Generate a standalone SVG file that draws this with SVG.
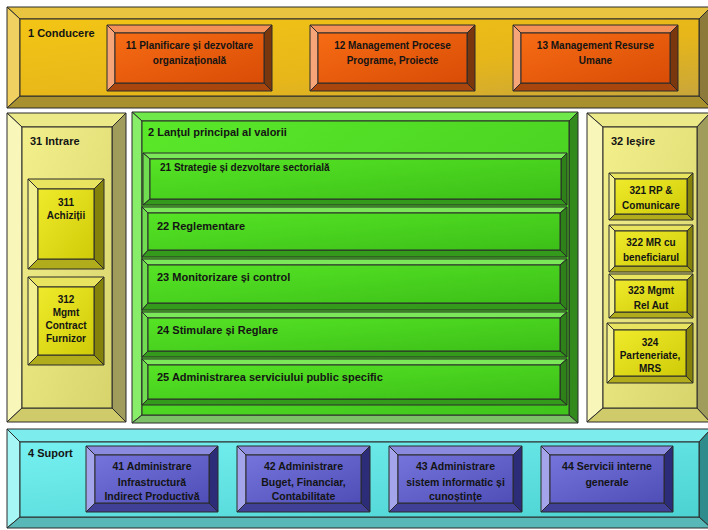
<svg xmlns="http://www.w3.org/2000/svg" width="708" height="530" viewBox="0 0 708 530">
<defs>
<linearGradient id="gGold" x1="0" y1="0" x2="1" y2="1"><stop offset="0" stop-color="#f3c515"/><stop offset="0.6" stop-color="#e6b61a"/><stop offset="1" stop-color="#c9a63a"/></linearGradient>
<linearGradient id="gOr" x1="0" y1="0" x2="1" y2="1"><stop offset="0" stop-color="#f76c14"/><stop offset="1" stop-color="#d84c06"/></linearGradient>
<linearGradient id="gPale" x1="0" y1="0" x2="1" y2="1"><stop offset="0" stop-color="#f3f08c"/><stop offset="1" stop-color="#d8d46c"/></linearGradient>
<linearGradient id="gYel" x1="0" y1="0" x2="1" y2="1"><stop offset="0" stop-color="#efeb2c"/><stop offset="1" stop-color="#cfcb08"/></linearGradient>
<linearGradient id="gGrn" x1="0" y1="0" x2="1" y2="1"><stop offset="0" stop-color="#5ae82a"/><stop offset="1" stop-color="#40c41c"/></linearGradient>
<linearGradient id="gRow" x1="0" y1="0" x2="1" y2="1"><stop offset="0" stop-color="#56e425"/><stop offset="1" stop-color="#3cbf18"/></linearGradient>
<linearGradient id="gCy" x1="0" y1="0" x2="1" y2="1"><stop offset="0" stop-color="#76f0f0"/><stop offset="1" stop-color="#4cd2d2"/></linearGradient>
<linearGradient id="gPu" x1="0" y1="0" x2="1" y2="1"><stop offset="0" stop-color="#7474dc"/><stop offset="1" stop-color="#4e4eb6"/></linearGradient>
</defs>
<style>
polygon,rect.f{stroke:#2a2a2a;stroke-width:1;stroke-linejoin:round}
text{font-family:"Liberation Sans",Arial,sans-serif;font-weight:bold;fill:#141414}
.c{text-anchor:middle;font-size:10px}
.p{text-anchor:middle;font-size:10.5px}
.h{font-size:11px}
.gold .f{fill:url(#gGold)} .gold .bt{fill:#e8c440} .gold .bl{fill:#f0d060} .gold .br{fill:#8c7a3a} .gold .bb{fill:#a8902e}
.or .f{fill:url(#gOr)} .or .bt{fill:#f39058} .or .bl{fill:#f5a578} .or .br{fill:#7a360c} .or .bb{fill:#a8460e}
.pale .f{fill:url(#gPale)} .pale .bt{fill:#ecea88} .pale .bl{fill:#f8f6b8} .pale .br{fill:#a09c5c} .pale .bb{fill:#cfca6a}
.yel .f{fill:url(#gYel)} .yel .bt{fill:#e8e460} .yel .bl{fill:#f2f090} .yel .br{fill:#85820c} .yel .bb{fill:#b0ac1c}
.grn .f{fill:url(#gGrn)} .grn .bt{fill:#6ee84a} .grn .bl{fill:#88ee6a} .grn .br{fill:#338a1c} .grn .bb{fill:#7cc068}
.row .f{fill:url(#gRow)} .row .bt{fill:#7ae858} .row .bl{fill:#70dc50} .row .br{fill:#2e8018} .row .bb{fill:#349a1c}
.cy .f{fill:url(#gCy)} .cy .bt{fill:#7cecec} .cy .bl{fill:#a6f6f6} .cy .br{fill:#2f8c8c} .cy .bb{fill:#58b8b8}
.pu .f{fill:url(#gPu)} .pu .bt{fill:#8a8ade} .pu .bl{fill:#a4a4ea} .pu .br{fill:#2c2c78} .pu .bb{fill:#404096}
</style>
<rect width="708" height="530" fill="#ffffff"/>

<g id="n1" class="gold">
<polygon class="bt" points="7,7 711,7 699,19 20,19"/>
<polygon class="bl" points="7,7 20,19 20,96 7,108"/>
<polygon class="br" points="711,7 711,108 699,96 699,19"/>
<polygon class="bb" points="7,108 20,96 699,96 711,108"/>
<rect class="f" x="20" y="19" width="679" height="77"/>
<text class="h" x="28" y="37">1 Conducere</text>
</g>
<g id="n11" class="or">
<polygon class="bt" points="107,25 272,25 264,33 115,33"/>
<polygon class="bl" points="107,25 115,33 115,83 107,91"/>
<polygon class="br" points="272,25 272,91 264,83 264,33"/>
<polygon class="bb" points="107,91 115,83 264,83 272,91"/>
<rect class="f" x="115" y="33" width="149" height="50"/>
<text class="c" x="189.5" y="49">11 Planificare și dezvoltare</text>
<text class="c" x="189.5" y="64">organizațională</text>
</g>
<g id="n12" class="or">
<polygon class="bt" points="310,25 475,25 467,33 318,33"/>
<polygon class="bl" points="310,25 318,33 318,83 310,91"/>
<polygon class="br" points="475,25 475,91 467,83 467,33"/>
<polygon class="bb" points="310,91 318,83 467,83 475,91"/>
<rect class="f" x="318" y="33" width="149" height="50"/>
<text class="c" x="392.5" y="49">12 Management Procese</text>
<text class="c" x="392.5" y="64">Programe, Proiecte</text>
</g>
<g id="n13" class="or">
<polygon class="bt" points="513,25 678,25 670,33 521,33"/>
<polygon class="bl" points="513,25 521,33 521,83 513,91"/>
<polygon class="br" points="678,25 678,91 670,83 670,33"/>
<polygon class="bb" points="513,91 521,83 670,83 678,91"/>
<rect class="f" x="521" y="33" width="149" height="50"/>
<text class="c" x="595.5" y="49">13 Management Resurse</text>
<text class="c" x="595.5" y="64">Umane</text>
</g>

<g id="n31" class="pale">
<polygon class="bt" points="7,113 126,113 112,127 22,127"/>
<polygon class="bl" points="7,113 22,127 22,408 7,422"/>
<polygon class="br" points="126,113 126,422 112,408 112,127"/>
<polygon class="bb" points="7,422 22,408 112,408 126,422"/>
<rect class="f" x="22" y="127" width="90" height="281"/>
<text class="h" x="30" y="145">31 Intrare</text>
</g>
<g id="n311" class="yel">
<polygon class="bt" points="28,179 104,179 94,189 38,189"/>
<polygon class="bl" points="28,179 38,189 38,259 28,269"/>
<polygon class="br" points="104,179 104,269 94,259 94,189"/>
<polygon class="bb" points="28,269 38,259 94,259 104,269"/>
<rect class="f" x="38" y="189" width="56" height="70"/>
<text class="c" x="66" y="206">311</text>
<text class="c" x="66" y="219">Achiziții</text>
</g>
<g id="n312" class="yel">
<polygon class="bt" points="28,277 104,277 94,287 38,287"/>
<polygon class="bl" points="28,277 38,287 38,355 28,365"/>
<polygon class="br" points="104,277 104,365 94,355 94,287"/>
<polygon class="bb" points="28,365 38,355 94,355 104,365"/>
<rect class="f" x="38" y="287" width="56" height="68"/>
<text class="c" x="66" y="303">312</text>
<text class="c" x="66" y="316">Mgmt</text>
<text class="c" x="66" y="329">Contract</text>
<text class="c" x="66" y="342">Furnizor</text>
</g>

<g id="n2" class="grn">
<polygon class="bt" points="132,112 578,112 569,121 142,121"/>
<polygon class="bl" points="132,112 142,121 142,415 132,423"/>
<polygon class="br" points="578,112 578,423 569,415 569,121"/>
<polygon class="bb" points="132,423 142,415 569,415 578,423"/>
<rect class="f" x="142" y="121" width="427" height="294"/>
<text class="h" x="148" y="136">2 Lanțul principal al valorii</text>
</g>
<g id="n21" class="row">
<polygon class="bt" points="143,153 567,153 561,159 150,159"/>
<polygon class="bl" points="143,153 150,159 150,199 143,205"/>
<polygon class="br" points="567,153 567,205 561,199 561,159"/>
<polygon class="bb" points="143,205 150,199 561,199 567,205"/>
<rect class="f" x="150" y="159" width="411" height="40"/>
<text x="160" y="171" style="font-size:10px">21 Strategie și dezvoltare sectorială</text>
</g>
<g id="n22" class="row">
<polygon class="bt" points="142,207 567,207 560,213 148,213"/>
<polygon class="bl" points="142,207 148,213 148,250 142,257"/>
<polygon class="br" points="567,207 567,257 560,250 560,213"/>
<polygon class="bb" points="142,257 148,250 560,250 567,257"/>
<rect class="f" x="148" y="213" width="412" height="37"/>
<text class="h" x="157" y="230">22 Reglementare</text>
</g>
<g id="n23" class="row">
<polygon class="bt" points="142,259 567,259 560,265 148,265"/>
<polygon class="bl" points="142,259 148,265 148,303 142,310"/>
<polygon class="br" points="567,259 567,310 560,303 560,265"/>
<polygon class="bb" points="142,310 148,303 560,303 567,310"/>
<rect class="f" x="148" y="265" width="412" height="38"/>
<text class="h" x="157" y="281">23 Monitorizare și control</text>
</g>
<g id="n24" class="row">
<polygon class="bt" points="142,312 567,312 560,318 148,318"/>
<polygon class="bl" points="142,312 148,318 148,351 142,357"/>
<polygon class="br" points="567,312 567,357 560,351 560,318"/>
<polygon class="bb" points="142,357 148,351 560,351 567,357"/>
<rect class="f" x="148" y="318" width="412" height="33"/>
<text class="h" x="157" y="334">24 Stimulare și Reglare</text>
</g>
<g id="n25" class="row">
<polygon class="bt" points="142,359 567,359 560,365 148,365"/>
<polygon class="bl" points="142,359 148,365 148,399 142,405"/>
<polygon class="br" points="567,359 567,405 560,399 560,365"/>
<polygon class="bb" points="142,405 148,399 560,399 567,405"/>
<rect class="f" x="148" y="365" width="412" height="34"/>
<text class="h" x="157" y="381">25 Administrarea serviciului public specific</text>
</g>

<g id="n32" class="pale">
<polygon class="bt" points="587,113 710,113 697,127 603,127"/>
<polygon class="bl" points="587,113 603,127 603,408 587,422"/>
<polygon class="br" points="710,113 710,422 697,408 697,127"/>
<polygon class="bb" points="587,422 603,408 697,408 710,422"/>
<rect class="f" x="603" y="127" width="94" height="281"/>
<text class="h" x="611" y="145">32 Ieșire</text>
</g>
<g id="n321" class="yel">
<polygon class="bt" points="609,173 693,173 687,179 615,179"/>
<polygon class="bl" points="609,173 615,179 615,214 609,220"/>
<polygon class="br" points="693,173 693,220 687,214 687,179"/>
<polygon class="bb" points="609,220 615,214 687,214 693,220"/>
<rect class="f" x="615" y="179" width="72" height="35"/>
<text class="c" x="651" y="194">321 RP &amp;</text>
<text class="c" x="651" y="209">Comunicare</text>
</g>
<g id="n322" class="yel">
<polygon class="bt" points="609,225 693,225 687,231 615,231"/>
<polygon class="bl" points="609,225 615,231 615,266 609,272"/>
<polygon class="br" points="693,225 693,272 687,266 687,231"/>
<polygon class="bb" points="609,272 615,266 687,266 693,272"/>
<rect class="f" x="615" y="231" width="72" height="35"/>
<text class="c" x="651" y="246">322 MR cu</text>
<text class="c" x="651" y="261">beneficiarul</text>
</g>
<g id="n323" class="yel">
<polygon class="bt" points="609,274 693,274 687,280 615,280"/>
<polygon class="bl" points="609,274 615,280 615,312 609,318"/>
<polygon class="br" points="693,274 693,318 687,312 687,280"/>
<polygon class="bb" points="609,318 615,312 687,312 693,318"/>
<rect class="f" x="615" y="280" width="72" height="32"/>
<text class="c" x="651" y="294">323 Mgmt</text>
<text class="c" x="651" y="309">Rel Aut</text>
</g>
<g id="n324" class="yel">
<polygon class="bt" points="607,323 693,323 686,330 614,330"/>
<polygon class="bl" points="607,323 614,330 614,376 607,383"/>
<polygon class="br" points="693,323 693,383 686,376 686,330"/>
<polygon class="bb" points="607,383 614,376 686,376 693,383"/>
<rect class="f" x="614" y="330" width="72" height="46"/>
<text class="c" x="650" y="346">324</text>
<text class="c" x="650" y="359">Parteneriate,</text>
<text class="c" x="650" y="372">MRS</text>
</g>

<g id="n4" class="cy">
<polygon class="bt" points="7,429 711,429 699,442 20,442"/>
<polygon class="bl" points="7,429 20,442 20,517 7,528"/>
<polygon class="br" points="711,429 711,528 699,517 699,442"/>
<polygon class="bb" points="7,528 20,517 699,517 711,528"/>
<rect class="f" x="20" y="442" width="679" height="75"/>
<text class="h" x="28" y="457">4 Suport</text>
</g>
<g id="n41" class="pu">
<polygon class="bt" points="86,446 218,446 209,455 95,455"/>
<polygon class="bl" points="86,446 95,455 95,503 86,512"/>
<polygon class="br" points="218,446 218,512 209,503 209,455"/>
<polygon class="bb" points="86,512 95,503 209,503 218,512"/>
<rect class="f" x="95" y="455" width="114" height="48"/>
<text class="p" x="152" y="469.5">41 Administrare</text>
<text class="p" x="152" y="485.5">Infrastructură</text>
<text class="p" x="152" y="499.5">Indirect Productivă</text>
</g>
<g id="n42" class="pu">
<polygon class="bt" points="237,446 370,446 361,455 246,455"/>
<polygon class="bl" points="237,446 246,455 246,503 237,512"/>
<polygon class="br" points="370,446 370,512 361,503 361,455"/>
<polygon class="bb" points="237,512 246,503 361,503 370,512"/>
<rect class="f" x="246" y="455" width="115" height="48"/>
<text class="p" x="303.5" y="469.5">42 Administrare</text>
<text class="p" x="303.5" y="485.5">Buget, Financiar,</text>
<text class="p" x="303.5" y="499.5">Contabilitate</text>
</g>
<g id="n43" class="pu">
<polygon class="bt" points="389,446 522,446 513,455 398,455"/>
<polygon class="bl" points="389,446 398,455 398,503 389,512"/>
<polygon class="br" points="522,446 522,512 513,503 513,455"/>
<polygon class="bb" points="389,512 398,503 513,503 522,512"/>
<rect class="f" x="398" y="455" width="115" height="48"/>
<text class="p" x="455.5" y="469.5">43 Administrare</text>
<text class="p" x="455.5" y="485.5">sistem informatic și</text>
<text class="p" x="455.5" y="499.5">cunoștințe</text>
</g>
<g id="n44" class="pu">
<polygon class="bt" points="541,446 673,446 664,455 550,455"/>
<polygon class="bl" points="541,446 550,455 550,503 541,512"/>
<polygon class="br" points="673,446 673,512 664,503 664,455"/>
<polygon class="bb" points="541,512 550,503 664,503 673,512"/>
<rect class="f" x="550" y="455" width="114" height="48"/>
<text class="p" x="607" y="469.5">44 Servicii interne</text>
<text class="p" x="607" y="485.5">generale</text>
</g>
<g id="connectors"/>
</svg>
